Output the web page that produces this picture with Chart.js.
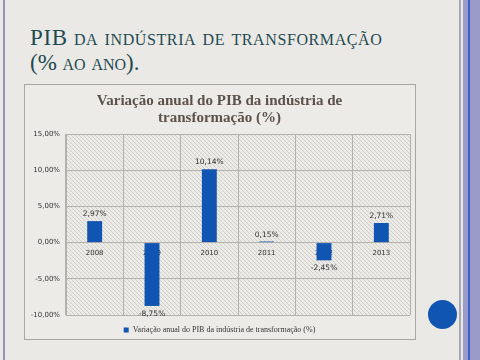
<!DOCTYPE html>
<html>
<head>
<meta charset="utf-8">
<script src="https://cdn.jsdelivr.net/npm/chart.js@4/dist/chart.umd.min.js"></script>
<style>
  html, body { margin:0; padding:0; }
  body { width:480px; height:360px; background:#ebe9e6; position:relative; overflow:hidden; }
  #lborder { position:absolute; left:3px; top:0; width:2px; height:360px; background:#9696b4; }
  #rgray { position:absolute; left:459px; top:0; width:2px; height:360px; background:#a8a8b2; }
  #rpurple { position:absolute; left:463px; top:0; width:17px; height:360px; background:#9b9bc7; }
  #rblue { position:absolute; left:468px; top:0; width:2px; height:360px; background:#3c5fcc; }
  #dot { position:absolute; left:428px; top:300px; width:29px; height:29px; border-radius:50%; background:#1155b3; }
  #title { position:absolute; left:30px; top:25px; font-family:"Liberation Serif", serif; color:#1e4b50;
           font-size:23px; line-height:25px; font-variant:small-caps; white-space:nowrap; }
  #title .l1 { letter-spacing:0.6px; }
  #box { position:absolute; left:24px; top:84px; width:390px; height:254px; border:1px solid #aaa8a4; background:#edebe8; }
  #c { position:absolute; left:0; top:0; }
</style>
</head>
<body>
<div id="lborder"></div>
<div id="rgray"></div>
<div id="rpurple"></div>
<div id="rblue"></div>
<div id="dot"></div>
<div id="title"><span class="l1">PIB da indústria de transformação</span><br>(% ao ano).</div>
<div id="box"><canvas id="c" width="390" height="254"></canvas></div>
<script>
const categories = ["2008", "2009", "2010", "2011", "2012", "2013"];
const values = [2.97, -8.75, 10.14, 0.15, -2.45, 2.71];
const seriesName = "Variação anual do PIB da indústria de transformação (%)";
const chartTitle = ["Variação anual do PIB da indústria de", "transformação (%)"];
const yMin = -10, yMax = 15, yStep = 5;

const fmt = v => v.toFixed(2).replace('.', ',') + '%';

function makeHatch() {
  const p = document.createElement('canvas');
  p.width = 4; p.height = 4;
  const g = p.getContext('2d');
  g.fillStyle = '#edebe8';
  g.fillRect(0, 0, 4, 4);
  g.strokeStyle = '#d0cec9';
  g.lineWidth = 1;
  g.beginPath();
  g.moveTo(-1, -1); g.lineTo(5, 5);
  g.moveTo(-1, 3); g.lineTo(1, 5);
  g.moveTo(3, -1); g.lineTo(5, 1);
  g.stroke();
  return p;
}

const hatchPlugin = {
  id: 'hatch',
  beforeDraw(chart) {
    const {ctx, chartArea: a} = chart;
    ctx.save();
    ctx.fillStyle = ctx.createPattern(makeHatch(), 'repeat');
    ctx.fillRect(a.left, a.top, a.right - a.left, a.bottom - a.top);
    ctx.restore();
  }
};

const labelPlugin = {
  id: 'valueLabels',
  afterDatasetsDraw(chart) {
    const {ctx} = chart;
    const meta = chart.getDatasetMeta(0);
    ctx.save();
    ctx.font = '7.5px "DejaVu Sans", sans-serif';
    ctx.fillStyle = '#333333';
    ctx.textAlign = 'center';
    meta.data.forEach((bar, i) => {
      const v = chart.data.datasets[0].data[i];
      if (v >= 0) {
        ctx.textBaseline = 'bottom';
        ctx.fillText(fmt(v), bar.x, bar.y - 3);
      } else {
        ctx.textBaseline = 'top';
        ctx.fillText(fmt(v), bar.x, bar.y + 4);
      }
    });
    ctx.restore();
  }
};

new Chart(document.getElementById('c'), {
  type: 'bar',
  data: {
    labels: categories,
    datasets: [{
      label: seriesName,
      data: values,
      backgroundColor: '#1155b3',
      borderWidth: 0,
      barPercentage: 0.5,
      categoryPercentage: 0.52
    }]
  },
  options: {
    responsive: false,
    animation: false,
    events: [],
    layout: { padding: { left: 4, right: 5, top: 0, bottom: -5 } },
    plugins: {
      title: {
        display: true,
        text: chartTitle,
        color: '#5b514a',
        font: { family: '"Liberation Serif", serif', size: 15, weight: 'bold', lineHeight: 1.1 },
        padding: { top: 8, bottom: 8 }
      },
      legend: {
        position: 'bottom',
        labels: {
          boxWidth: 5, boxHeight: 5,
          color: '#333333',
          font: { family: '"Liberation Serif", serif', size: 8 },
          padding: 11
        }
      },
      tooltip: { enabled: false }
    },
    scales: {
      x: {
        position: { y: 0 },
        grid: { color: '#b3b1ad', lineWidth: 1, drawTicks: false, offset: true },
        border: { color: '#b3b1ad' },
        ticks: { color: '#333333', font: { family: '"DejaVu Sans", sans-serif', size: 7 }, padding: 6, maxRotation: 0 }
      },
      y: {
        min: yMin, max: yMax,
        afterFit(s) { s.width = 37; },
        grid: { color: '#b3b1ad', lineWidth: 1, drawTicks: false },
        border: { color: '#b3b1ad' },
        ticks: {
          stepSize: yStep,
          color: '#333333',
          font: { family: '"DejaVu Sans", sans-serif', size: 7 },
          padding: 6,
          callback: v => fmt(v)
        }
      }
    }
  },
  plugins: [hatchPlugin, labelPlugin]
});
</script>
</body>
</html>
